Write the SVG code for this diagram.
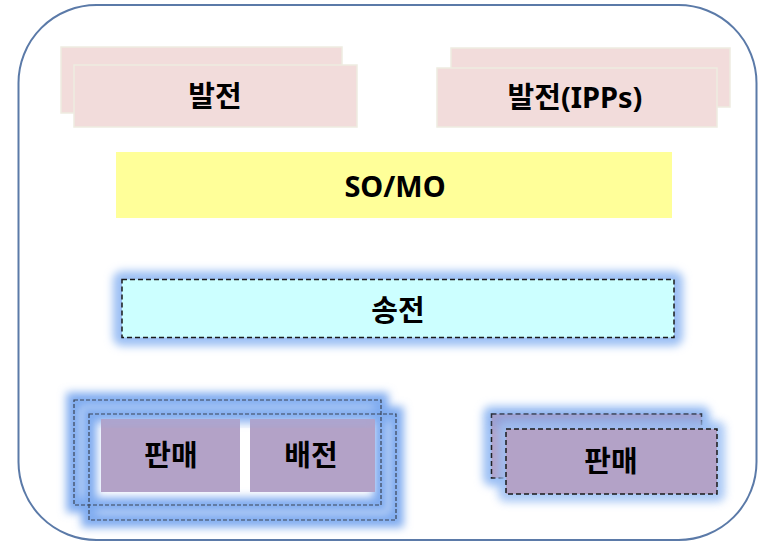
<svg xmlns="http://www.w3.org/2000/svg" width="761" height="544" viewBox="0 0 761 544">
<defs>
<filter id="glow" x="-20%" y="-40%" width="140%" height="180%">
<feGaussianBlur stdDeviation="4.5"/>
</filter>
<filter id="glowline" x="-20%" y="-40%" width="140%" height="180%">
<feGaussianBlur stdDeviation="4"/>
</filter>
</defs>
<style>
.lbl{font-family:"Noto Sans","Noto Sans CJK KR",sans-serif;font-weight:bold;font-size:29px;fill:#000;text-anchor:middle}
.pink{fill:#f2dcdb;stroke:#eeece1;stroke-width:1.5}
.purple{fill:#b3a2c7}
.dash{fill:none;stroke:#3a4456;stroke-width:1.2;stroke-dasharray:4 2}
.dashb{stroke:#1a1a1a;stroke-width:1.5;stroke-dasharray:5 3}
.halo{fill:#9cc0f4}
.haloline{fill:none;stroke:#80acf0;stroke-width:15}
</style>
<rect id="frame" x="18.5" y="5" width="738" height="535" rx="78" ry="78" fill="#fff" stroke="#5b7aa8" stroke-width="2"/>

<g id="gen1">
<rect class="pink" x="61" y="47" width="281" height="66"/>
<rect class="pink" x="74" y="65" width="283" height="62"/>
<text class="lbl" x="215" y="107">발전</text>
</g>

<g id="gen2">
<rect class="pink" x="451" y="48" width="279" height="59"/>
<rect class="pink" x="437" y="68" width="280" height="59"/>
<text class="lbl" x="575" y="107.5">발전(IPPs)</text>
</g>

<g id="somo">
<rect x="116" y="152" width="556" height="66" fill="#ffff99"/>
<text class="lbl" x="395" y="197" font-size="30">SO/MO</text>
</g>

<g id="trans">
<rect class="halo" x="113" y="271" width="570" height="75" rx="9" filter="url(#glow)"/>
<rect x="122" y="279.5" width="552" height="58" fill="#ccffff" class="dashb" stroke="#1a1a1a"/>
<text class="lbl" x="398" y="321">송전</text>
</g>

<g id="retail-dist">
<rect class="haloline" x="74" y="400" width="307" height="105" filter="url(#glowline)"/>
<rect class="haloline" x="89" y="414" width="307" height="106" filter="url(#glowline)"/>
<rect class="purple" x="101" y="419" width="139" height="73"/>
<rect class="purple" x="250" y="419" width="125" height="73"/>
<rect x="101" y="419" width="274" height="6" fill="#8fb0ee" opacity="0.35" filter="url(#glowline)"/>
<rect class="dash" x="74" y="400" width="307" height="105"/>
<rect class="dash" x="89" y="414" width="307" height="106"/>
<text class="lbl" x="171" y="466">판매</text>
<text class="lbl" x="311" y="466">배전</text>
</g>

<g id="retail2">
<rect class="halo" x="483" y="406" width="227" height="80" rx="8" filter="url(#glow)"/>
<rect class="purple dashb" x="491.5" y="414" width="210" height="64" fill="#b3a2c7" stroke="#1a1a1a"/>
<rect x="492" y="414" width="210" height="14" fill="#7f9ee0" opacity="0.6" filter="url(#glowline)"/>
<rect class="halo" x="498" y="421" width="227" height="81" rx="8" filter="url(#glow)" opacity="0.85"/>
<rect class="purple dashb" x="506" y="429" width="211" height="65" fill="#b3a2c7" stroke="#1a1a1a"/>
<text class="lbl" x="611" y="472">판매</text>
</g>
</svg>
